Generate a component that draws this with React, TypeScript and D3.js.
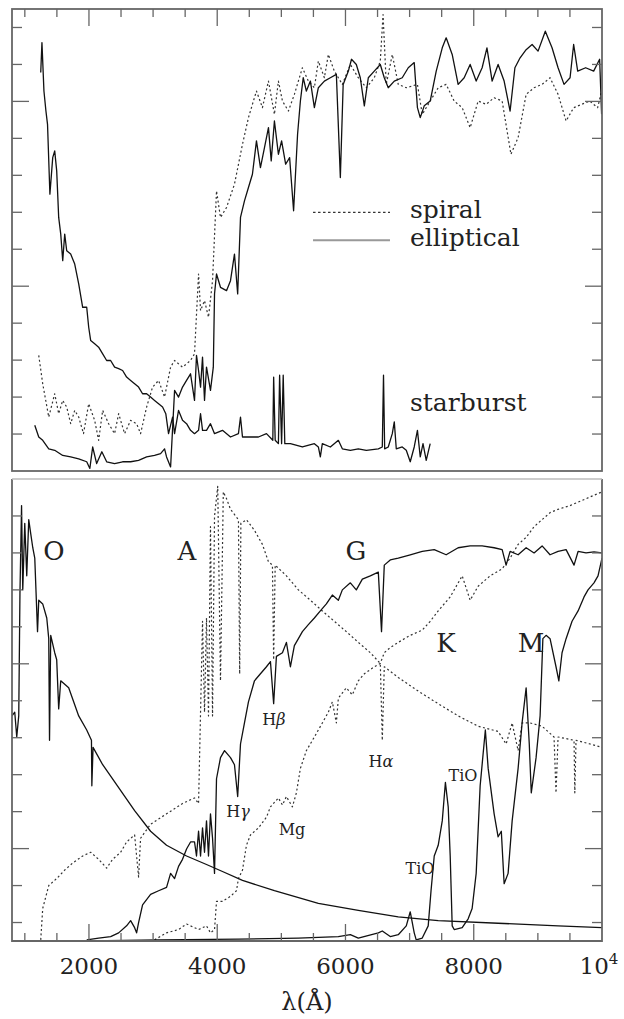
import * as d3 from "d3";
import { useEffect, useRef } from "react";

type Pt = [number, number];

// ---- top panel: galaxy spectra, [wavelength (Å), flux (arbitrary units)] ----
const elliptical: Pt[] = [
  [1155, 1.24], [1217, 0.92], [1279, 0.83], [1373, 0.6], [1466, 0.56], [1591, 0.42], [1715, 0.38],
  [1840, 0.33], [1965, 0.25], [2014, 0.07], [2058, 0.65], [2120, 0.2], [2201, 0.52], [2276, 0.25],
  [2400, 0.2], [2525, 0.25], [2650, 0.25], [2774, 0.29], [2899, 0.38], [3023, 0.42], [3117, 0.47],
  [3179, 0.6], [3210, 0.38], [3273, 0.11], [3335, 2.18], [3397, 2.0], [3459, 2.27], [3522, 2.45],
  [3584, 2.63], [3646, 1.91], [3677, 3.13], [3709, 2.72], [3740, 2.27], [3771, 3.08], [3802, 1.91],
  [3833, 2.81], [3895, 2.18], [3939, 2.81], [3958, 4.79], [3989, 5.33], [4051, 4.97], [4145, 4.88],
  [4207, 5.15], [4269, 5.87], [4319, 4.79], [4363, 6.86], [4425, 7.31], [4487, 7.67], [4549, 8.03],
  [4612, 8.93], [4674, 8.21], [4737, 8.75], [4799, 9.29], [4842, 8.39], [4892, 9.47], [4954, 8.57],
  [5004, 8.93], [5067, 8.3], [5129, 8.48], [5191, 7.04], [5253, 9.11], [5297, 10.01], [5341, 10.64],
  [5390, 10.28], [5453, 10.55], [5515, 9.83], [5577, 10.37], [5671, 10.55], [5764, 10.64],
  [5858, 10.73], [5920, 7.94], [5964, 10.46], [6045, 10.82], [6094, 11.14], [6169, 11.0],
  [6231, 10.64], [6294, 9.88], [6356, 10.64], [6449, 10.82], [6543, 11.0], [6605, 10.64],
  [6667, 10.37], [6761, 10.55], [6885, 10.64], [6979, 10.91], [7072, 11.05], [7122, 9.83],
  [7166, 9.56], [7228, 9.88], [7321, 10.01], [7415, 10.82], [7509, 11.45], [7570, 11.72],
  [7664, 11.27], [7757, 10.46], [7851, 10.64], [7944, 11.0], [8038, 10.55], [8131, 10.91],
  [8206, 11.45], [8287, 10.55], [8380, 11.0], [8474, 10.55], [8567, 9.74], [8642, 10.91],
  [8723, 11.18], [8817, 11.4], [8910, 11.54], [9003, 11.36], [9116, 11.9], [9221, 11.45],
  [9315, 10.91], [9408, 10.46], [9502, 10.64], [9558, 11.54], [9621, 10.82], [9745, 10.91],
  [9870, 10.82], [9963, 11.14], [9994, 9.65],
];

const spiral: Pt[] = [
  [1217, 3.13], [1279, 2.36], [1373, 1.46], [1466, 2.09], [1528, 1.55], [1591, 1.91], [1653, 1.73],
  [1715, 1.28], [1778, 1.64], [1840, 1.46], [1915, 1.01], [1996, 1.82], [2089, 1.37], [2151, 0.83],
  [2214, 1.64], [2307, 1.28], [2400, 1.01], [2463, 1.55], [2556, 1.01], [2650, 1.37], [2743, 1.28],
  [2805, 1.01], [2899, 1.73], [2992, 2.27], [3086, 2.45], [3179, 2.0], [3273, 2.81], [3335, 2.99],
  [3459, 2.81], [3584, 2.99], [3646, 3.17], [3709, 5.33], [3740, 4.34], [3802, 4.61], [3864, 4.16],
  [3927, 5.15], [3989, 7.58], [4051, 6.86], [4145, 7.13], [4269, 7.76], [4394, 8.84], [4487, 9.56],
  [4549, 9.92], [4612, 10.28], [4705, 9.83], [4799, 10.55], [4892, 9.65], [4954, 10.55],
  [5017, 10.01], [5110, 9.74], [5203, 10.19], [5328, 10.91], [5421, 10.55], [5515, 10.37],
  [5577, 11.09], [5671, 10.64], [5733, 11.27], [5826, 10.82], [5951, 10.46], [6076, 11.0],
  [6200, 10.64], [6325, 10.37], [6449, 10.64], [6543, 11.09], [6586, 12.35], [6636, 10.46],
  [6730, 11.27], [6823, 10.46], [6948, 10.37], [7122, 10.46], [7197, 9.65], [7321, 10.01],
  [7446, 10.37], [7570, 10.46], [7695, 10.01], [7820, 9.83], [7944, 9.29], [8069, 10.01],
  [8193, 9.92], [8318, 10.1], [8443, 10.01], [8580, 8.57], [8692, 9.02], [8817, 10.19],
  [8941, 10.37], [9066, 10.46], [9190, 10.64], [9315, 10.19], [9440, 9.47], [9558, 9.83],
  [9683, 9.92], [9808, 10.01], [9932, 9.83], [9994, 10.28],
];

const starburst: Pt[] = [
  [1248, 10.78], [1267, 11.59], [1298, 10.28], [1329, 9.74], [1354, 9.38], [1391, 7.49], [1435, 8.48],
  [1466, 8.66], [1497, 8.12], [1528, 6.86], [1560, 6.41], [1591, 5.69], [1622, 6.41], [1653, 5.96],
  [1715, 5.87], [1778, 5.6], [1840, 5.06], [1902, 4.43], [1965, 4.43], [1996, 3.89], [2027, 3.53],
  [2089, 3.44], [2151, 3.35], [2214, 3.17], [2276, 2.99], [2338, 2.99], [2400, 2.81], [2463, 2.77],
  [2525, 2.72], [2587, 2.54], [2650, 2.45], [2712, 2.36], [2774, 2.27], [2836, 2.09], [2899, 2.09],
  [2961, 2.0], [3023, 1.91], [3086, 1.82], [3148, 1.73], [3198, 1.55], [3241, 1.01], [3304, 1.46],
  [3335, 1.01], [3397, 1.64], [3459, 1.37], [3522, 1.28], [3584, 1.1], [3646, 1.01], [3709, 1.1],
  [3740, 1.55], [3771, 1.1], [3833, 1.1], [3895, 1.28], [3958, 1.01], [4082, 1.1], [4207, 0.92],
  [4331, 1.01], [4363, 1.46], [4394, 0.92], [4518, 0.92], [4643, 0.92], [4768, 1.01], [4867, 0.83],
  [4880, 2.54], [4904, 0.83], [4954, 0.74], [4973, 2.59], [5004, 0.74], [5029, 2.59], [5054, 0.74],
  [5141, 0.74], [5328, 0.65], [5515, 0.74], [5577, 0.65], [5608, 0.38], [5639, 0.74], [5764, 0.65],
  [5889, 0.83], [5951, 0.6], [6076, 0.56], [6200, 0.6], [6325, 0.56], [6512, 0.6], [6574, 0.65],
  [6593, 2.59], [6611, 0.6], [6667, 0.65], [6730, 1.01], [6761, 1.33], [6792, 0.6], [6885, 0.65],
  [6948, 0.56], [7010, 0.25], [7072, 0.65], [7122, 1.1], [7166, 0.38], [7209, 0.74], [7259, 0.29],
  [7321, 0.74],
];

// ---- bottom panel: stellar spectra ----
const starO: Pt[] = [
  [800, 6.09], [843, 6.19], [874, 5.52], [905, 6.09], [924, 9.41], [949, 11.78], [968, 9.5],
  [999, 11.3], [1030, 9.88], [1061, 11.4], [1092, 11.02], [1124, 10.64], [1155, 10.36], [1198, 8.37],
  [1217, 9.22], [1279, 9.12], [1342, 8.74], [1373, 8.18], [1385, 5.43], [1404, 8.27], [1466, 7.8],
  [1497, 7.61], [1528, 6.28], [1560, 7.04], [1684, 6.85], [1840, 6.09], [1965, 5.71], [2039, 5.43],
  [2045, 4.2], [2064, 5.24], [2214, 4.77], [2463, 4.15], [2712, 3.53], [2961, 2.97], [3210, 2.59],
  [3522, 2.3], [3833, 2.07], [4082, 1.88], [4394, 1.64], [4892, 1.36], [5577, 1.02], [6200, 0.83],
  [6823, 0.65], [7446, 0.55], [8380, 0.48], [9315, 0.41], [10000, 0.36],
];

const starA: Pt[] = [
  [1248, 0.03], [1279, 0.88], [1373, 1.5], [1497, 1.69], [1622, 1.92], [1746, 2.11], [1902, 2.3],
  [2027, 2.4], [2151, 2.21], [2276, 1.97], [2369, 2.21], [2494, 2.4], [2587, 2.68], [2712, 2.87],
  [2774, 1.73], [2805, 2.78], [2961, 3.16], [3210, 3.44], [3459, 3.72], [3646, 3.87], [3709, 3.72],
  [3771, 8.65], [3802, 6.19], [3833, 8.74], [3864, 6.09], [3895, 11.21], [3927, 6.09], [3958, 11.49],
  [4008, 12.3], [4051, 7.04], [4095, 12.15], [4145, 11.97], [4207, 11.68], [4331, 11.4], [4350, 7.23],
  [4369, 11.3], [4456, 11.4], [4581, 11.11], [4705, 10.73], [4799, 10.26], [4861, 10.17], [4880, 7.61],
  [4904, 10.17], [5079, 9.88], [5266, 9.5], [5453, 9.22], [5639, 8.93], [5826, 8.65], [6013, 8.37],
  [6200, 8.08], [6387, 7.8], [6543, 7.51], [6574, 5.43], [6605, 7.42], [6823, 7.13], [7135, 6.76],
  [7446, 6.42], [7757, 6.09], [8069, 5.81], [8380, 5.67], [8505, 5.33], [8599, 5.9], [8692, 5.15],
  [8754, 5.9], [8878, 5.9], [9066, 5.81], [9252, 5.52], [9283, 4.01], [9315, 5.52], [9564, 5.43],
  [9576, 4.01], [9595, 5.43], [9813, 5.33], [10000, 5.24],
];

const starG: Pt[] = [
  [1965, 0.03], [2151, 0.08], [2338, 0.12], [2463, 0.22], [2587, 0.41], [2650, 0.55], [2712, 0.36],
  [2743, 0.22], [2774, 0.5], [2836, 0.98], [2961, 1.26], [3086, 1.36], [3210, 1.45], [3273, 1.83],
  [3335, 1.69], [3397, 2.02], [3459, 2.21], [3522, 2.49], [3584, 2.68], [3646, 2.68], [3677, 2.3],
  [3709, 2.97], [3740, 2.3], [3771, 3.06], [3802, 2.4], [3833, 3.25], [3864, 2.3], [3895, 3.44],
  [3927, 2.78], [3958, 1.83], [3989, 4.39], [4051, 4.96], [4114, 5.15], [4207, 4.96], [4269, 4.77],
  [4319, 3.91], [4363, 5.33], [4425, 5.9], [4487, 6.47], [4581, 7.04], [4674, 7.23], [4768, 7.42],
  [4830, 7.56], [4880, 6.42], [4923, 7.7], [5017, 7.8], [5079, 8.08], [5141, 7.42], [5203, 7.99],
  [5266, 8.18], [5328, 8.37], [5421, 8.56], [5515, 8.74], [5608, 8.93], [5702, 9.12], [5795, 9.36],
  [5889, 9.22], [5951, 9.5], [6076, 9.69], [6169, 9.5], [6263, 9.79], [6387, 9.88], [6512, 9.98],
  [6562, 8.37], [6605, 10.17], [6698, 10.31], [6823, 10.36], [7010, 10.45], [7197, 10.54],
  [7384, 10.59], [7570, 10.45], [7757, 10.64], [7944, 10.69], [8131, 10.69], [8318, 10.64],
  [8443, 10.59], [8505, 10.17], [8567, 10.54], [8692, 10.45], [8817, 10.64], [8941, 10.5],
  [9066, 10.69], [9190, 10.45], [9315, 10.54], [9440, 10.59], [9564, 10.17], [9627, 10.54],
  [9751, 10.5], [9875, 10.53], [10000, 10.5],
];

const starK: Pt[] = [
  [3023, 0.03], [3210, 0.22], [3397, 0.31], [3522, 0.46], [3709, 0.31], [3833, 0.41], [3895, 0.22],
  [3958, 0.31], [3989, 1.07], [4082, 1.07], [4207, 1.21], [4300, 1.36], [4331, 1.69], [4394, 1.92],
  [4456, 2.59], [4518, 2.87], [4643, 3.06], [4768, 3.35], [4830, 3.63], [4954, 3.87], [5017, 3.68],
  [5079, 3.91], [5172, 3.63], [5235, 4.01], [5297, 4.67], [5390, 5.15], [5515, 5.52], [5639, 5.9],
  [5733, 6.19], [5795, 6.47], [5858, 5.9], [5889, 6.57], [6013, 6.85], [6107, 6.66], [6200, 7.04],
  [6294, 7.23], [6449, 7.42], [6543, 7.51], [6605, 7.8], [6698, 7.94], [6823, 8.08], [7010, 8.27],
  [7197, 8.41], [7321, 8.65], [7446, 8.93], [7633, 9.31], [7820, 9.88], [7944, 9.22], [8069, 9.6],
  [8256, 9.88], [8443, 10.07], [8567, 10.36], [8692, 10.73], [8817, 10.92], [8941, 11.21],
  [9066, 11.4], [9190, 11.59], [9315, 11.68], [9502, 11.78], [9689, 11.92], [9875, 12.06],
  [10000, 12.15],
];

const starM: Pt[] = [
  [2000, 0.0], [3086, 0.03], [4331, 0.05], [5266, 0.08], [5889, 0.12], [6076, 0.17], [6200, 0.08],
  [6512, 0.22], [6574, 0.27], [6698, 0.12], [6823, 0.17], [6948, 0.41], [7010, 0.79], [7072, 0.22],
  [7103, 0.03], [7197, 0.08], [7290, 0.41], [7334, 1.36], [7384, 2.3], [7446, 2.59], [7509, 3.25],
  [7558, 4.29], [7602, 3.63], [7633, 2.3], [7664, 0.41], [7695, 0.31], [7820, 0.36], [7913, 0.6],
  [7975, 0.88], [8038, 1.83], [8100, 4.2], [8181, 5.71], [8225, 4.67], [8318, 3.44], [8380, 2.82],
  [8430, 2.97], [8474, 1.55], [8536, 1.83], [8599, 3.25], [8692, 4.67], [8754, 5.9], [8817, 6.85],
  [8866, 5.33], [8897, 4.01], [8972, 4.96], [9035, 6.09], [9078, 8.18], [9128, 8.27], [9190, 8.18],
  [9283, 7.42], [9327, 7.04], [9377, 7.8], [9440, 8.18], [9533, 8.65], [9627, 8.93], [9720, 9.31],
  [9782, 9.5], [9875, 9.69], [9938, 9.88], [10000, 10.36],
];

// ---- axes ----
const xMinorTicks = [1000, 1500, 2500, 3000, 3500, 4500, 5000, 5500, 6500, 7000, 7500, 8500, 9000, 9500];
const xMajorTicks = [2000, 4000, 6000, 8000];
const xTickLabels = ["2000", "4000", "6000", "8000"];
const topYTicks = [1, 2, 3, 4, 5, 6, 7, 8, 9, 10, 11, 12];
const topYMajor = [5, 10];
const botYTicks = [0.5, 1.5, 2.5, 3.5, 4.5, 5.5, 6.5, 7.5, 8.5, 9.5, 10.5, 11.5];
const botYMajor = [2.5, 7.5];

// ---- annotations [label, wavelength, flux] ----
const starLabels: [string, number, number][] = [
  ["O", 1455, 10.3], ["A", 3529, 10.3], ["G", 6164, 10.3], ["K", 7568, 7.81], ["M", 8893, 7.81],
];
const lineLabels: [string, string, number, number][] = [
  ["H", "β", 4885, 5.84], ["H", "γ", 4324, 3.35], ["Mg", "", 5166, 2.86], ["H", "α", 6554, 4.7],
  ["TiO", "", 7833, 4.32], ["TiO", "", 7162, 1.81],
];

export default function App() {
  const ref = useRef<SVGSVGElement | null>(null);

  useEffect(() => {
    if (!ref.current) return;
    const svg = d3.select(ref.current);
    svg.selectAll("*").remove();

    const width = 624;
    const height = 1019;
    const left = 12;
    const right = 602;
    const topA = 9;
    const botA = 471;
    const topB = 479;
    const botB = 941;
    const font = "'DejaVu Serif', serif";

    svg.attr("width", width).attr("height", height);
    svg.append("rect").attr("width", width).attr("height", height).attr("fill", "#fff");

    const x = d3.scaleLinear().domain([800, 10000]).range([left, right]);
    const yTop = d3.scaleLinear().domain([0, 12.5]).range([botA, topA]);
    const yBot = d3.scaleLinear().domain([0, 12.5]).range([botB, topB]);

    const defs = svg.append("defs");
    defs.append("clipPath").attr("id", "clipA").append("rect")
      .attr("x", left).attr("y", topA).attr("width", right - left).attr("height", botA - topA);
    defs.append("clipPath").attr("id", "clipB").append("rect")
      .attr("x", left).attr("y", topB).attr("width", right - left).attr("height", botB - topB);

    const gA = svg.append("g").attr("clip-path", "url(#clipA)");
    const gB = svg.append("g").attr("clip-path", "url(#clipB)");

    const lineTop = d3.line<Pt>().x((d) => x(d[0])).y((d) => yTop(d[1]));
    const lineBot = d3.line<Pt>().x((d) => x(d[0])).y((d) => yBot(d[1]));

    const draw = (g: any, data: Pt[], line: any, dotted: boolean) => {
      g.append("path")
        .datum(data)
        .attr("fill", "none")
        .attr("stroke", dotted ? "#333" : "#111")
        .attr("stroke-width", dotted ? 1.2 : 1.3)
        .attr("stroke-linejoin", "round")
        .attr("stroke-dasharray", dotted ? "2,2.5" : null)
        .attr("d", line);
    };

    draw(gA, spiral, lineTop, true);
    draw(gA, starburst, lineTop, false);
    draw(gA, elliptical, lineTop, false);

    draw(gB, starA, lineBot, true);
    draw(gB, starK, lineBot, true);
    draw(gB, starO, lineBot, false);
    draw(gB, starG, lineBot, false);
    draw(gB, starM, lineBot, false);

    // frames
    const frame = "#666";
    svg.append("rect").attr("x", left).attr("y", topA).attr("width", right - left)
      .attr("height", botA - topA).attr("fill", "none").attr("stroke", frame).attr("stroke-width", 1.8);
    svg.append("path")
      .attr("d", `M${left},${topB}V${botB}H${right}V${topB}`)
      .attr("fill", "none").attr("stroke", frame).attr("stroke-width", 1.8);
    svg.append("line").attr("x1", left).attr("x2", right).attr("y1", topB).attr("y2", topB)
      .attr("stroke", "#bbb").attr("stroke-width", 1.6);

    // ticks
    const ticks = svg.append("g").attr("stroke", frame).attr("stroke-width", 1.3);
    const xTick = (v: number, len: number) => {
      ticks.append("line").attr("x1", x(v)).attr("x2", x(v)).attr("y1", topA).attr("y2", topA + len);
      ticks.append("line").attr("x1", x(v)).attr("x2", x(v)).attr("y1", botB).attr("y2", botB - len);
    };
    xMinorTicks.forEach((v) => xTick(v, 8));
    xMajorTicks.forEach((v) => xTick(v, 17));

    const yTick = (y: number, len: number) => {
      ticks.append("line").attr("x1", left).attr("x2", left + len).attr("y1", y).attr("y2", y);
      ticks.append("line").attr("x1", right).attr("x2", right - len).attr("y1", y).attr("y2", y);
    };
    topYTicks.forEach((v) => yTick(yTop(v), topYMajor.includes(v) ? 17 : 10));
    botYTicks.forEach((v) => yTick(yBot(v), botYMajor.includes(v) ? 17 : 10));

    // tick labels
    xMajorTicks.forEach((v, i) => {
      svg.append("text").attr("x", x(v)).attr("y", botB + 33)
        .attr("text-anchor", "middle").attr("font-family", font).attr("font-size", 23)
        .attr("fill", "#222").text(xTickLabels[i]);
    });
    const tenK = svg.append("text").attr("x", x(10000) - 3).attr("y", botB + 33)
      .attr("text-anchor", "middle").attr("font-family", font).attr("font-size", 23).attr("fill", "#222");
    tenK.append("tspan").text("10");
    tenK.append("tspan").attr("font-size", 15).attr("dy", -10).text("4");

    svg.append("text").attr("x", (left + right) / 2).attr("y", botB + 69)
      .attr("text-anchor", "middle").attr("font-family", font).attr("font-size", 24)
      .attr("fill", "#222").text("λ(Å)");

    // legend (top panel)
    svg.append("line").attr("x1", x(5494)).attr("x2", x(6694)).attr("y1", yTop(7.0)).attr("y2", yTop(7.0))
      .attr("stroke", "#333").attr("stroke-width", 1.2).attr("stroke-dasharray", "2.5,2.5");
    svg.append("line").attr("x1", x(5494)).attr("x2", x(6694)).attr("y1", yTop(6.24)).attr("y2", yTop(6.24))
      .attr("stroke", "#999").attr("stroke-width", 2);
    const legendText = (t: string, v: number) =>
      svg.append("text").attr("x", x(7006)).attr("y", yTop(v)).attr("font-family", font)
        .attr("font-size", 25).attr("fill", "#222").text(t);
    legendText("spiral", 6.84);
    legendText("elliptical", 6.08);
    legendText("starburst", 1.62);

    // stellar type labels
    starLabels.forEach(([t, l, v]) => {
      svg.append("text").attr("x", x(l)).attr("y", yBot(v)).attr("text-anchor", "middle")
        .attr("font-family", font).attr("font-size", 26).attr("fill", "#222").text(t);
    });
    lineLabels.forEach(([t, greek, l, v]) => {
      const tx = svg.append("text").attr("x", x(l)).attr("y", yBot(v)).attr("text-anchor", "middle")
        .attr("font-family", font).attr("font-size", 16).attr("fill", "#222");
      tx.append("tspan").text(t);
      if (greek) tx.append("tspan").attr("font-style", "italic").text(greek);
    });
  }, []);

  return (
    <svg
      ref={ref}
      style={{ position: "absolute", left: 0, top: 0, display: "block" }}
    ></svg>
  );
}
